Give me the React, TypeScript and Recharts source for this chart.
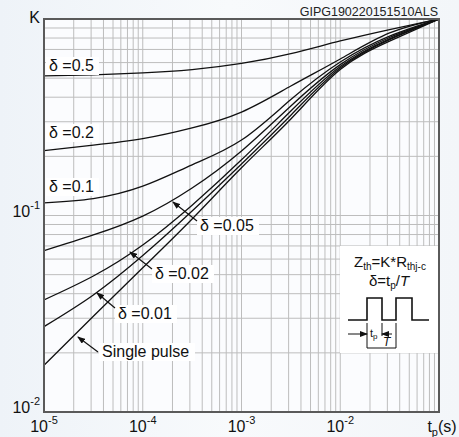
import React from 'react';
import { LineChart, Line, XAxis, YAxis, CartesianGrid } from 'recharts';

// pulse duration t_p (s)
const tpSeconds = [1e-5, 3.16e-5, 1e-4, 3.16e-4, 1e-3, 3.16e-3, 1e-2, 3.16e-2, 1e-1];

// normalised transient thermal impedance K
const kSingle = [0.0173, 0.0307, 0.0542, 0.096, 0.175, 0.31, 0.553, 0.771, 1.0];
const kD001 = [0.0272, 0.0394, 0.0625, 0.1054, 0.183, 0.324, 0.563, 0.786, 1.0];
const kD002 = [0.0372, 0.0492, 0.0708, 0.1129, 0.192, 0.34, 0.573, 0.793, 1.0];
const kD005 = [0.0662, 0.0796, 0.0993, 0.138, 0.213, 0.361, 0.586, 0.805, 1.0];
const kD01 = [0.116, 0.122, 0.141, 0.181, 0.242, 0.389, 0.604, 0.818, 1.0];
const kD02 = [0.214, 0.228, 0.246, 0.279, 0.336, 0.456, 0.626, 0.849, 1.0];
const kD05 = [0.513, 0.52, 0.532, 0.553, 0.594, 0.667, 0.773, 0.884, 1.0];

const seriesKeys = ['single', 'd001', 'd002', 'd005', 'd01', 'd02', 'd05'];

const xDecades = [1e-5, 1e-4, 1e-3, 1e-2];
const yDecades = [1e-2, 1e-1];
const gridMults = [1, 2, 3, 4, 5, 6, 7, 8, 9];

const xTicks = [...xDecades.flatMap((d) => gridMults.map((m) => d * m)), 1e-1];
const yTicks = [...yDecades.flatMap((d) => gridMults.map((m) => d * m)), 1];

const data = tpSeconds.map((tp, i) => ({
  tp,
  single: kSingle[i],
  d001: kD001[i],
  d002: kD002[i],
  d005: kD005[i],
  d01: kD01[i],
  d02: kD02[i],
  d05: kD05[i],
}));

const FONT = '"Liberation Sans", Arial, Helvetica, sans-serif';

const isDecade = (v: number) => Math.abs(Math.log10(v) - Math.round(Math.log10(v))) < 1e-9;

const XTick = (props: any) => {
  const { x, y, payload } = props;
  const v = payload.value;
  if (!isDecade(v)) return <g />;
  const exp = Math.round(Math.log10(v));
  if (exp === -1) {
    return (
      <text x={x + 3} y={y + 20} textAnchor="middle" fontFamily={FONT} fontSize={16} fill="#111">
        t<tspan fontSize={11} dy={4}>p</tspan>
        <tspan dy={-4}>(s)</tspan>
      </text>
    );
  }
  return (
    <text x={x} y={y + 20} textAnchor="middle" fontFamily={FONT} fontSize={16} fill="#111">
      10<tspan fontSize={11} dy={-8}>{exp}</tspan>
    </text>
  );
};

const YTick = (props: any) => {
  const { x, y, payload } = props;
  const v = payload.value;
  if (!isDecade(v)) return <g />;
  const exp = Math.round(Math.log10(v));
  if (exp === 0) {
    return (
      <text x={x} y={y + 4} textAnchor="end" fontFamily={FONT} fontSize={16} fill="#111">
        K
      </text>
    );
  }
  return (
    <text x={x} y={y + 1} textAnchor="end" fontFamily={FONT} fontSize={16} fill="#111">
      10<tspan fontSize={11} dy={-8}>{exp}</tspan>
    </text>
  );
};

const Label = ({ x, y, w, text }: { x: number; y: number; w: number; text: string }) => (
  <g>
    <rect x={x - 3} y={y - 14} width={w + 6} height={18} fill="#ffffff" />
    <text x={x} y={y} fontFamily={FONT} fontSize={16} fill="#111">
      {text}
    </text>
  </g>
);

const Arrow = ({ x1, y1, x2, y2 }: { x1: number; y1: number; x2: number; y2: number }) => (
  <line x1={x1} y1={y1} x2={x2} y2={y2} stroke="#111" strokeWidth={1.2} markerEnd="url(#ah)" />
);

const Overlay = () => (
  <svg
    width={459}
    height={437}
    style={{ position: 'absolute', left: 0, top: 0, pointerEvents: 'none' }}
  >
    <defs>
      <marker id="ah" markerWidth="8" markerHeight="6" refX="7" refY="3" orient="auto" markerUnits="userSpaceOnUse">
        <path d="M0,0 L8,3 L0,6 Z" fill="#111" />
      </marker>
    </defs>
    <rect x={44} y={19} width={395} height={393} fill="none" stroke="#5a5a5a" strokeWidth={2} />
    <text x={438} y={16} textAnchor="end" fontFamily={FONT} fontSize={12.5} fill="#222">
      GIPG190220151510ALS
    </text>

    <Label x={49} y={71} w={47} text="δ =0.5" />
    <Label x={49} y={138} w={47} text="δ =0.2" />
    <Label x={49} y={192} w={47} text="δ =0.1" />
    <Label x={200} y={231} w={56} text="δ =0.05" />
    <Label x={155} y={279} w={56} text="δ =0.02" />
    <Label x={118} y={319} w={56} text="δ =0.01" />
    <Label x={102} y={357} w={90} text="Single pulse" />
    <Arrow x1={197} y1={221} x2={173} y2={202} />
    <Arrow x1={152} y1={269} x2={130} y2={252} />
    <Arrow x1={115} y1={308} x2={97} y2={293} />
    <Arrow x1={98} y1={352} x2={78} y2={337} />

    <rect x={340} y={246} width={98} height={107} fill="#ffffff" />
    <text x={390} y={267} textAnchor="middle" fontFamily={FONT} fontSize={15} fill="#111">
      Z<tspan fontSize={10} dy={3}>th</tspan>
      <tspan dy={-3}>=K*R</tspan>
      <tspan fontSize={10} dy={3}>thj-c</tspan>
    </text>
    <text x={389} y={286} textAnchor="middle" fontFamily={FONT} fontSize={15} fill="#111">
      δ=t<tspan fontSize={10} dy={3}>p</tspan>
      <tspan dy={-3}>/</tspan>
      <tspan fontStyle="italic">T</tspan>
    </text>
    <polyline
      points="348,320 367,320 367,298 382,298 382,320 396,320 396,298 412,298 412,320 429,320"
      fill="none"
      stroke="#111"
      strokeWidth={1.6}
    />
    <line x1={348} y1={334} x2={367} y2={334} stroke="#111" strokeWidth={1} markerEnd="url(#ah)" />
    <line x1={392} y1={334} x2={382} y2={334} stroke="#111" strokeWidth={1} markerEnd="url(#ah)" />
    <line x1={367} y1={323} x2={367} y2={348} stroke="#111" strokeWidth={1} />
    <line x1={382} y1={323} x2={382} y2={336} stroke="#111" strokeWidth={1} />
    <line x1={396} y1={323} x2={396} y2={348} stroke="#111" strokeWidth={1} />
    <line x1={367} y1={348} x2={396} y2={348} stroke="#111" strokeWidth={1} />
    <text x={370} y={337} fontFamily={FONT} fontSize={11} fill="#111">
      t<tspan fontSize={8} dy={2}>p</tspan>
    </text>
    <text x={383} y={346} fontFamily={FONT} fontSize={12} fontStyle="italic" fill="#111">
      T
    </text>
  </svg>
);

const App: React.FC = () => {
  return (
    <div
      style={{
        position: 'absolute',
        left: 0,
        top: 0,
        width: 459,
        height: 437,
        background: 'linear-gradient(90deg, #eef3f8 0%, #f8fafc 50%, #f3f6f9 100%)',
      }}
    >
      <LineChart width={459} height={437} data={data} margin={{ top: 19, right: 20, bottom: 0, left: 0 }}>
        <CartesianGrid stroke="#bdbdbd" strokeWidth={1} fill="#fbfcfe" />
        <XAxis
          dataKey="tp"
          type="number"
          scale="log"
          domain={[1e-5, 1e-1]}
          allowDataOverflow
          ticks={xTicks}
          interval={0}
          height={25}
          axisLine={false}
          tickLine={false}
          tickSize={0}
          tickMargin={0}
          tick={<XTick />}
        />
        <YAxis
          type="number"
          scale="log"
          domain={[1e-2, 1]}
          allowDataOverflow
          ticks={yTicks}
          interval={0}
          width={44}
          axisLine={false}
          tickLine={false}
          tickSize={0}
          tickMargin={4}
          tick={<YTick />}
        />
        {seriesKeys.map((k) => (
          <Line
            key={k}
            dataKey={k}
            type="natural"
            stroke="#111"
            strokeWidth={1.3}
            dot={false}
            isAnimationActive={false}
          />
        ))}
      </LineChart>
      <Overlay />
    </div>
  );
};

export default App;
